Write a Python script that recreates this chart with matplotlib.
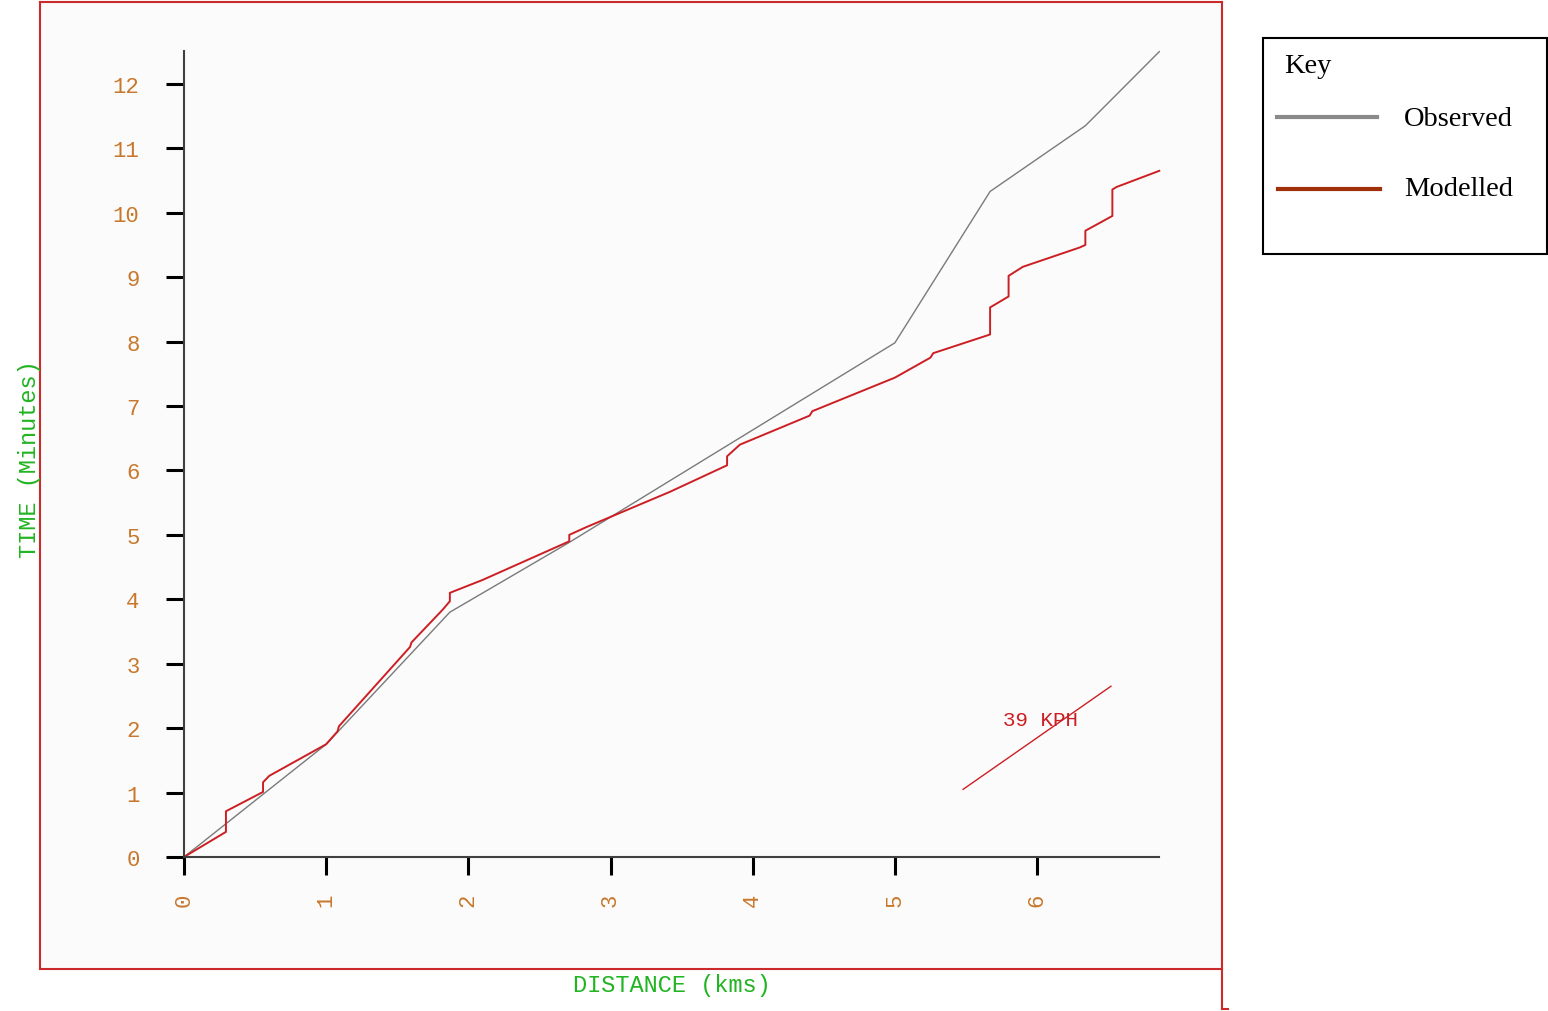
import matplotlib
matplotlib.use('Agg')
import matplotlib.pyplot as plt
from matplotlib.lines import Line2D
from matplotlib.patches import Rectangle

# observed journey (grey)
obs_km = [0, 1.0, 1.87, 2.7, 5.0, 5.67, 6.34, 6.58, 6.86]
obs_min = [0, 1.75, 3.8, 4.87, 7.98, 10.33, 11.35, 11.88, 12.5]

# modelled journey (red, stepped at stops)
mod_km = [0, 0.295, 0.295, 0.556, 0.556, 0.60, 1.0, 1.08, 1.09, 1.59, 1.60,
          1.82, 1.87, 1.87, 2.1, 2.71, 2.71, 2.83, 3.42, 3.82, 3.82, 3.91,
          4.40, 4.42, 5.0, 5.25, 5.27, 5.67, 5.67, 5.80, 5.80, 5.90, 6.30, 6.34,
          6.34, 6.53, 6.53, 6.56, 6.86]
mod_min = [0, 0.39, 0.71, 1.01, 1.16, 1.26, 1.75, 1.95, 2.03, 3.26, 3.33,
           3.84, 3.97, 4.10, 4.30, 4.90, 5.00, 5.12, 5.67, 6.08, 6.22, 6.40,
           6.85, 6.92, 7.44, 7.75, 7.82, 8.11, 8.53, 8.70, 9.02, 9.16, 9.46, 9.50,
           9.72, 9.95, 10.36, 10.40, 10.65]

# 39 kph reference slope
kph_km = [5.48, 6.52]
kph_min = [1.05, 2.65]
kph_label = '39 KPH'

x_ticks = [0, 1, 2, 3, 4, 5, 6]
y_ticks = [0, 1, 2, 3, 4, 5, 6, 7, 8, 9, 10, 11, 12]

W, H = 1548, 1012
MONO = 'Liberation Mono'
TICK_COL = '#c8782c'
GREEN = '#22b422'
RED = '#cc1f24'
FRAME = '#cc2a2a'


def px(x, y):
    return x / W, 1 - y / H


fig = plt.figure(figsize=(W / 100, H / 100), dpi=100, facecolor='white')

# light panel + red frame
fig.add_artist(Rectangle(px(40, 970), 1182 / W, 967 / H, transform=fig.transFigure,
                         facecolor='#fbfbfb', edgecolor='none', zorder=-5))
for (x0, y0), (x1, y1) in [((40, 3), (1222, 3)), ((40, 3), (40, 970)),
                           ((40, 970), (1222, 970)), ((1222, 3), (1222, 1010)),
                           ((1222, 1010), (1228, 1010))]:
    fig.add_artist(Line2D([x0 / W, x1 / W], [1 - y0 / H, 1 - y1 / H],
                          transform=fig.transFigure, color=FRAME, lw=1.5))

ax = fig.add_axes([184 / W, 154 / H, 975 / W, 806 / H])
ax.set_zorder(1)
ax.set_facecolor('none')
ax.set_xlim(0, 6.858)
ax.set_ylim(0, 12.51)

ax.plot(obs_km, obs_min, color='#7a7a7a', lw=1.0, clip_on=False)
ax.plot(mod_km, mod_min, color=RED, lw=1.4, clip_on=False)
ax.plot(kph_km, kph_min, color=RED, lw=1.0)
ax.text(5.76, 2.14, kph_label, color=RED, fontsize=15, family=MONO, va='center', ha='left')

for s in ['top', 'right']:
    ax.spines[s].set_visible(False)
for s in ['left', 'bottom']:
    ax.spines[s].set_color('#404040')
    ax.spines[s].set_linewidth(1.5)

ax.set_xticks(x_ticks)
ax.set_yticks(y_ticks)
ax.set_xticklabels([str(v) for v in x_ticks], rotation=90)
ax.tick_params(axis='both', direction='out', length=13, width=2.2, color='black',
               labelcolor=TICK_COL, labelsize=16)
ax.tick_params(axis='y', pad=19)
ax.tick_params(axis='x', pad=13)
for lab in ax.get_xticklabels() + ax.get_yticklabels():
    lab.set_family(MONO)

fig.text(*px(30, 459), 'TIME (Minutes)', rotation=90, color=GREEN, family=MONO,
         fontsize=17, ha='center', va='center')
fig.text(*px(672, 986), 'DISTANCE (kms)', color=GREEN, family=MONO,
         fontsize=17, ha='center', va='center')

# key box
fig.add_artist(Rectangle(px(1263, 255), 284 / W, 216 / H, transform=fig.transFigure,
                         facecolor='white', edgecolor='black', lw=1.5))
fig.text(*px(1284, 67), 'Key', family='Liberation Serif', fontsize=20.5, va='center', ha='left')
fig.add_artist(Line2D([1277 / W, 1377 / W], [1 - 118 / H] * 2, transform=fig.transFigure,
                      color='#8a8a8a', lw=3))
fig.add_artist(Line2D([1278 / W, 1380 / W], [1 - 190 / H] * 2, transform=fig.transFigure,
                      color='#a0300a', lw=3))
fig.text(*px(1404, 120), 'Observed', family='Liberation Serif', fontsize=20.5, va='center', ha='left')
fig.text(*px(1404, 190), 'Modelled', family='Liberation Serif', fontsize=20.5, va='center', ha='left')

fig.savefig('out.png', dpi=100, facecolor=fig.get_facecolor())
